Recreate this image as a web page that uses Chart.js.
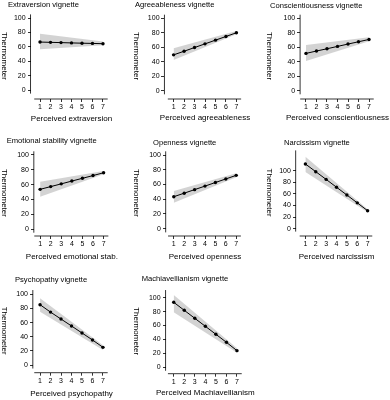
<!DOCTYPE html>
<html>
<head>
<meta charset="utf-8">
<title>Thermometer ratings by perceived trait</title>
<style>
  html, body { margin: 0; padding: 0; background: #fff; }
  #wrap { position: relative; width: 390px; height: 400px; overflow: hidden; }
</style>
</head>
<body>
<div id="wrap"></div>
<script src="https://cdn.jsdelivr.net/npm/chart.js"></script>
<script>
const perceived = [1, 2, 3, 4, 5, 6, 7];
const yTicks = [0, 20, 40, 60, 80, 100];
const titles = ['Extraversion vignette', 'Agreeableness vignette', 'Conscientiousness vignette',
  'Emotional stability vignette', 'Openness vignette', 'Narcissism vignette',
  'Psychopathy vignette', 'Machiavellianism vignette'];
const xTitles = ['Perceived extraversion', 'Perceived agreeableness', 'Perceived conscientiousness',
  'Perceived emotional stab.', 'Perceived openness', 'Perceived narcissism',
  'Perceived psychopathy', 'Perceived Machiavellianism'];

// predicted thermometer rating at each perceived level
const extraversion = [66.6, 66.2, 65.8, 65.4, 65.0, 64.7, 64.3];
const agreeableness = [49.5, 54.5, 59.6, 64.7, 69.8, 74.9, 80.0];
const conscientiousness = [51.5, 54.8, 57.9, 61.2, 64.4, 67.6, 70.8];
const emotionalStability = [53.6, 57.3, 61.0, 64.8, 68.5, 72.2, 76.0];
const openness = [43.4, 48.2, 53.0, 57.8, 62.7, 67.5, 72.4];
const narcissism = [111.6, 98.3, 85.0, 71.5, 58.1, 44.6, 31.0];
const psychopathy = [85.3, 74.8, 65.0, 55.2, 45.3, 35.4, 25.0];
const machiavellianism = [93.4, 81.9, 70.4, 58.9, 47.4, 35.9, 23.9];

// confidence band, given at perceived = 1 and 7
const bandX = [1, 7];
const extraversionLow = [56.5, 62.0], extraversionHigh = [78.0, 67.5];
const agreeablenessLow = [42.5, 78.0], agreeablenessHigh = [58.5, 82.5];
const conscientiousnessLow = [41.0, 68.2], conscientiousnessHigh = [63.0, 73.8];
const emotionalStabilityLow = [43.7, 74.0], emotionalStabilityHigh = [64.0, 78.4];
const opennessLow = [35.3, 69.7], opennessHigh = [51.0, 75.2];
const narcissismLow = [97.8, 28.3], narcissismHigh = [124.0, 33.5];
const psychopathyLow = [75.4, 21.2], psychopathyHigh = [94.3, 28.0];
const machiavellianismLow = [79.0, 21.0], machiavellianismHigh = [104.0, 27.3];

const series = [extraversion, agreeableness, conscientiousness, emotionalStability,
  openness, narcissism, psychopathy, machiavellianism];
const lows = [extraversionLow, agreeablenessLow, conscientiousnessLow, emotionalStabilityLow,
  opennessLow, narcissismLow, psychopathyLow, machiavellianismLow];
const highs = [extraversionHigh, agreeablenessHigh, conscientiousnessHigh, emotionalStabilityHigh,
  opennessHigh, narcissismHigh, psychopathyHigh, machiavellianismHigh];
// top end of each y axis line
const yLineTop = [105, 105, 105, 105, 105, 135, 106, 111];

// page geometry of each panel (pixels)
// [cellLeft, titleX, titleY, yTitleX, axisX, x1px, x7px, axisY, y0px, y100px, xTitleY]
const layout = [
  [0, 8, 5, 4.5, 31, 40.7, 105, 99, 90, 18, 118.3],
  [131, 135, 5, 137, 165, 174.3, 238.3, 99, 90.7, 18.3, 118],
  [262, 270, 6, 269.7, 300.7, 306.7, 371, 99, 90.7, 18.3, 118],
  [0, 6.7, 140.5, 4.5, 34.3, 40.7, 105.3, 236, 229, 155, 256.7],
  [131, 153, 143, 137, 166, 174.3, 238.3, 236, 228.7, 155, 256.7],
  [262, 284, 143, 269.7, 296, 306, 370, 236, 228.7, 170.7, 256.7],
  [0, 15, 280, 4.5, 33.3, 40.7, 105.3, 372.7, 365, 294.3, 393.3],
  [131, 141.7, 279, 137, 166, 174.3, 238.7, 373.7, 367.3, 297.7, 392.7]
];

const FONT = "'Liberation Sans', Arial, sans-serif";
Chart.defaults.font.family = FONT;
Chart.defaults.color = '#000';

const TITLE_SIZE = 7.6, AXIS_TITLE_SIZE = 8, TICK_SIZE = 7;
const TICK_LEN = 3, LABEL_GAP = 5;

// R-style axis lines that stop short of the corner
const axisLines = {
  id: 'axisLines',
  afterDraw(chart, args, opts) {
    const { ctx, chartArea, scales: { x, y } } = chart;
    const ax = x.getPixelForValue(opts.yAxisAt);
    ctx.save();
    ctx.strokeStyle = '#000';
    ctx.lineWidth = 0.8;
    ctx.beginPath();
    ctx.moveTo(ax, y.getPixelForValue(opts.yFrom));
    ctx.lineTo(ax, y.getPixelForValue(opts.yTo));
    ctx.moveTo(x.getPixelForValue(opts.xFrom), chartArea.bottom);
    ctx.lineTo(x.getPixelForValue(opts.xTo), chartArea.bottom);
    ctx.stroke();
    ctx.restore();
  }
};

const wrap = document.getElementById('wrap');

series.forEach((vals, i) => {
  const [cellL, titleX, titleY, yTitleX, axisX, x1, x7, axisY, y0, y100, xTitleY] = layout[i];
  const kx = (x7 - x1) / 6;
  const ky = (y0 - y100) / 100;
  // chart area runs from the title start to a right edge that centres the x title on x = 4
  const x4 = (x1 + x7) / 2;
  const chartLeft = titleX, chartRight = 2 * x4 - titleX;
  const xmin = 1 - (x1 - chartLeft) / kx;
  const xmax = 7 + (chartRight - x7) / kx;
  const yAxisAt = 1 - (x1 - axisX) / kx;
  const yLabelsAt = yAxisAt - LABEL_GAP / kx;
  const ymin = -(axisY - y0) / ky;
  const ymax = yLineTop[i] + 2;

  const titleLH = TITLE_SIZE * 1.2, axisLH = AXIS_TITLE_SIZE * 1.2;
  const top = Math.round(titleY - titleLH / 2);
  const bottom = Math.ceil(xTitleY + axisLH / 2 + 1);
  const chartTop = y0 - ymax * ky;
  const w = Math.ceil(chartRight - cellL + 1), h = bottom - top;

  const canvas = document.createElement('canvas');
  canvas.width = w;
  canvas.height = h;
  canvas.style.position = 'absolute';
  canvas.style.left = cellL + 'px';
  canvas.style.top = top + 'px';
  wrap.appendChild(canvas);

  const yTickList = s => { s.ticks = yTicks.map(v => ({ value: v })); };

  new Chart(canvas, {
    type: 'line',
    data: {
      datasets: [
        {
          data: perceived.map((p, j) => ({ x: p, y: vals[j] })),
          borderColor: '#000', borderWidth: 1,
          pointRadius: 1.7, pointBackgroundColor: '#000', pointBorderWidth: 0,
          fill: false
        },
        {
          data: bandX.map((p, j) => ({ x: p, y: lows[i][j] })),
          borderWidth: 0, pointRadius: 0, fill: false
        },
        {
          data: bandX.map((p, j) => ({ x: p, y: highs[i][j] })),
          borderWidth: 0, pointRadius: 0,
          fill: '-1', backgroundColor: 'rgba(120,120,120,0.33)'
        }
      ]
    },
    options: {
      responsive: false,
      animation: false,
      events: [],
      layout: { padding: { left: titleX - cellL, right: w - (chartRight - cellL), top: 0, bottom: 0 } },
      plugins: {
        legend: { display: false },
        tooltip: { enabled: false },
        title: {
          display: true, text: titles[i], align: 'start', color: '#000',
          font: { size: TITLE_SIZE, weight: 'normal' },
          padding: { top: 0, bottom: chartTop - top - titleLH }
        },
        axisLines: { yAxisAt, xFrom: 0.45, xTo: 7.45, yFrom: -5, yTo: yLineTop[i] }
      },
      scales: {
        x: {
          type: 'linear', min: xmin, max: xmax,
          afterBuildTicks: s => { s.ticks = perceived.map(v => ({ value: v })); },
          afterFit: s => { s.height = bottom - axisY; },
          ticks: { font: { size: TICK_SIZE }, color: '#000', padding: 1, autoSkip: false, maxRotation: 0 },
          grid: { drawOnChartArea: false, drawTicks: true, tickLength: TICK_LEN, color: '#000', lineWidth: 0.8 },
          border: { display: false },
          title: {
            display: true, text: xTitles[i], color: '#000',
            font: { size: AXIS_TITLE_SIZE },
            padding: { top: 0, bottom: bottom - xTitleY - axisLH / 2 }
          }
        },
        // y axis: tick marks and title, sitting on the axis line
        y: {
          type: 'linear', min: ymin, max: ymax,
          position: { x: yAxisAt },
          afterBuildTicks: yTickList,
          afterFit: s => { s.width = 0; },
          ticks: { display: false },
          grid: { drawOnChartArea: false, drawTicks: true, tickLength: TICK_LEN, color: '#000', lineWidth: 0.8 },
          border: { display: false },
          title: {
            display: true, text: 'Thermometer', color: '#000',
            font: { size: AXIS_TITLE_SIZE },
            padding: { top: 0, bottom: yTitleX - axisX - axisLH / 2 }
          }
        },
        // same scale again, just for the tick labels left of the tick marks
        yLabels: {
          type: 'linear', min: ymin, max: ymax,
          position: { x: yLabelsAt },
          afterBuildTicks: yTickList,
          afterFit: s => { s.width = 0; },
          ticks: { font: { size: TICK_SIZE }, color: '#000' },
          grid: { display: false },
          border: { display: false }
        }
      }
    },
    plugins: [axisLines]
  });
});
</script>
</body>
</html>
